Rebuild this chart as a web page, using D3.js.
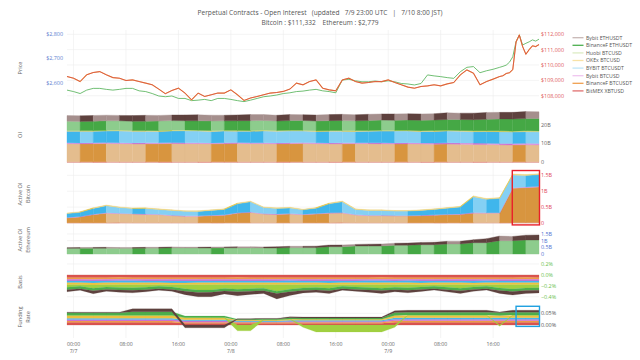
<!DOCTYPE html>
<html><head><meta charset="utf-8">
<script src="https://cdn.jsdelivr.net/npm/d3@7"></script>
<style>
body{margin:0;background:#fff}
svg{display:block;font-family:"Open Sans",sans-serif}
</style>
</head><body>
<svg id="c" width="640" height="360"></svg>
<script>
// ---------------- DATA ----------------
const titleLine1 = "Perpetual Contracts - Open Interest   (updated   7/9 23:00 UTC   |   7/10 8:00 JST)";
const titleLine2 = "Bitcoin : $111,332    Ethereum : $2,779";
const seriesNames = ["Bybit ETHUSDT","BinanceF ETHUSDT","Huobi BTCUSD","OKEx BTCUSD","BYBIT BTCUSDT","Bybit BTCUSD","BinanceF BTCUSDT","BitMEX XBTUSD"];
const seriesKeys  = ["bybitEth","binEth","huobi","okex","bybitBtcusdt","bybitBtcusd","binBtc","bitmex"];
const stackKeys = ["bitmex","binBtc","bybitBtcusd","bybitBtcusdt","okex","huobi","binEth","bybitEth"];

// price (hour offsets from 7/6 23:00 UTC)
const priceHours = d3.range(0, 66.5, 1).concat([66.5,67,67.5,68,68.5,69,69.5,70,70.5,71,71.5,72]);
const btcPrice = [109250,109140,108920,109360,109510,109570,109360,109180,109140,108990,109030,108920,108820,108710,108430,108130,108340,108490,108170,107730,108170,107950,108060,108170,108170,108380,108060,107690,107850,107950,108060,108170,108210,108280,108430,108820,108710,108920,109030,108490,108380,108320,109030,109140,108920,108820,108860,108920,108920,109030,108860,108710,108560,108490,108600,108640,108710,108640,108770,108860,109360,109680,109470,108710,108920,109080,109250,
  109300,109450,109500,109700,111500,111950,111200,110700,111000,111250,111200,111332];
const ethPrice = [2571,2565,2557,2571,2578,2578,2574,2571,2574,2578,2578,2568,2565,2557,2547,2544,2547,2537,2537,2528,2530,2533,2528,2537,2537,2533,2528,2524,2530,2537,2544,2547,2551,2557,2560,2565,2567,2571,2574,2568,2565,2560,2612,2615,2609,2605,2605,2608,2605,2609,2605,2598,2596,2592,2598,2633,2629,2626,2622,2619,2646,2664,2667,2642,2650,2656,2664,
  2668,2673,2685,2707,2769,2796,2755,2762,2768,2776,2771,2779];

// panels sampled every 2 hours (37 points)
// Open interest (B USD)
const oiBitmex = [0.3,0.3,0.3,0.31,0.3,0.3,0.3,0.29,0.3,0.3,0.3,0.31,0.3,0.3,0.3,0.3,0.29,0.3,0.3,0.3,0.3,0.31,0.3,0.3,0.3,0.3,0.3,0.29,0.3,0.3,0.3,0.3,0.31,0.3,0.3,0.3,0.3];
const oiBinBtc = [9.6,9.5,9.6,9.7,9.6,9.5,9.5,9.6,9.7,9.6,9.6,9.5,9.6,9.7,9.6,9.6,9.5,9.6,9.7,9.6,9.5,9.5,9.6,9.6,9.5,9.4,9.5,9.4,9.3,9.4,9.3,9.2,9.1,9.0,8.9,9.0,8.9];
const oiBybitBtcusd = [0.5,0.5,0.55,0.5,0.5,0.5,0.55,0.5,0.5,0.55,0.5,0.5,0.5,0.55,0.5,0.5,0.5,0.55,0.5,0.5,0.5,0.55,0.5,0.5,0.6,0.6,0.65,0.6,0.6,0.65,0.7,0.7,0.75,0.7,0.8,0.8,0.8];
const oiBybitBtcusdt = [6.1,6.2,6.0,6.1,6.3,6.2,6.1,6.0,6.2,6.3,6.2,6.1,6.2,6.0,6.1,6.3,6.2,6.2,6.1,6.0,6.2,6.1,6.0,6.1,6.2,6.3,6.2,6.1,6.2,6.3,6.2,6.1,6.2,6.3,6.1,6.2,6.2];
const oiOkex = [0.35,0.35,0.36,0.35,0.35,0.34,0.35,0.35,0.36,0.35,0.35,0.35,0.34,0.35,0.35,0.36,0.35,0.35,0.35,0.34,0.35,0.35,0.36,0.35,0.35,0.35,0.34,0.35,0.35,0.36,0.35,0.35,0.35,0.36,0.37,0.36,0.36];
const oiHuobi = [0.1,0.1,0.1,0.11,0.1,0.1,0.1,0.1,0.11,0.1,0.1,0.1,0.1,0.1,0.11,0.1,0.1,0.1,0.1,0.1,0.11,0.1,0.1,0.1,0.1,0.1,0.11,0.1,0.1,0.1,0.1,0.1,0.11,0.1,0.1,0.1,0.1];
const oiBinEth = [4.9,4.8,4.9,5.0,4.9,4.9,5.0,5.1,5.0,4.9,5.0,5.1,5.0,5.1,5.2,5.1,5.0,5.1,5.2,5.1,5.2,5.3,5.2,5.3,5.4,5.3,5.4,5.5,5.6,5.7,5.8,5.9,6.1,6.3,6.4,6.5,6.6];
const oiBybitEth = [3.0,3.0,3.1,3.0,2.9,3.0,3.1,3.0,3.0,3.1,3.2,3.1,3.0,3.1,3.2,3.1,3.1,3.2,3.1,3.2,3.2,3.3,3.2,3.3,3.3,3.4,3.3,3.4,3.4,3.5,3.4,3.5,3.6,3.5,3.6,3.7,3.6];

// Active OI Bitcoin (B USD)
const aBitmex = [0.01,0.01,0.01,0.01,0.012,0.01,0.01,0.01,0.01,0.01,0.01,0.01,0.011,0.01,0.01,0.01,0.01,0.01,0.01,0.01,0.01,0.012,0.01,0.01,0.01,0.01,0.01,0.01,0.01,0.011,0.01,0.01,0.01,0.01,0.012,0.012,0.012];
const aBinBtc = [0.15,0.18,0.25,0.3,0.28,0.27,0.26,0.25,0.22,0.2,0.2,0.22,0.23,0.3,0.32,0.27,0.26,0.27,0.25,0.27,0.3,0.3,0.24,0.22,0.22,0.21,0.21,0.22,0.23,0.25,0.26,0.3,0.3,0.3,1.08,1.1,1.12];
const aBybitBtcusd = [0.015,0.015,0.016,0.015,0.015,0.014,0.015,0.015,0.015,0.016,0.015,0.015,0.015,0.014,0.015,0.015,0.016,0.015,0.015,0.015,0.015,0.016,0.015,0.015,0.014,0.015,0.015,0.015,0.016,0.015,0.015,0.017,0.016,0.016,0.02,0.02,0.02];
const aBybitBtcusdt = [0.12,0.13,0.18,0.22,0.18,0.16,0.17,0.15,0.15,0.14,0.14,0.15,0.17,0.28,0.32,0.19,0.17,0.18,0.14,0.17,0.28,0.34,0.16,0.15,0.15,0.14,0.14,0.15,0.17,0.19,0.22,0.5,0.42,0.45,0.4,0.36,0.37];
const aOkex = [0.02,0.02,0.022,0.02,0.02,0.02,0.021,0.02,0.02,0.02,0.02,0.02,0.02,0.022,0.022,0.02,0.02,0.02,0.02,0.02,0.022,0.022,0.02,0.02,0.02,0.02,0.02,0.02,0.02,0.02,0.02,0.025,0.024,0.024,0.03,0.03,0.03];

// Active OI Ethereum (B USD)
const eBinEth = [0.43,0.43,0.44,0.44,0.43,0.43,0.44,0.44,0.46,0.45,0.45,0.45,0.46,0.46,0.46,0.45,0.45,0.48,0.48,0.48,0.55,0.55,0.6,0.6,0.6,0.66,0.66,0.7,0.7,0.75,0.75,0.85,0.85,1.0,1.0,1.05,1.05];
const eBybitEth = [0.04,0.05,0.05,0.06,0.05,0.05,0.06,0.06,0.07,0.06,0.06,0.07,0.07,0.08,0.08,0.08,0.09,0.1,0.1,0.11,0.12,0.13,0.12,0.14,0.15,0.15,0.16,0.17,0.18,0.2,0.2,0.22,0.3,0.35,0.32,0.36,0.38];

// Basis (%)
const bBitmex = [-0.05,-0.05,-0.052,-0.05,-0.049,-0.05,-0.051,-0.05,-0.05,-0.052,-0.05,-0.05,-0.05,-0.049,-0.05,-0.051,-0.05,-0.05,-0.05,-0.05,-0.052,-0.05,-0.05,-0.05,-0.049,-0.05,-0.05,-0.051,-0.05,-0.05,-0.05,-0.052,-0.05,-0.05,-0.05,-0.049,-0.05];
const bBinBtc = [-0.03,-0.03,-0.031,-0.03,-0.03,-0.029,-0.03,-0.03,-0.031,-0.03,-0.03,-0.03,-0.03,-0.031,-0.03,-0.03,-0.03,-0.029,-0.03,-0.03,-0.03,-0.031,-0.03,-0.03,-0.03,-0.03,-0.029,-0.03,-0.03,-0.03,-0.031,-0.03,-0.03,-0.03,-0.03,-0.031,-0.03];
const bBybitBtcusd = [-0.03,-0.031,-0.03,-0.03,-0.03,-0.03,-0.029,-0.03,-0.03,-0.03,-0.031,-0.03,-0.03,-0.03,-0.03,-0.029,-0.03,-0.03,-0.031,-0.03,-0.03,-0.03,-0.03,-0.029,-0.03,-0.03,-0.03,-0.031,-0.03,-0.03,-0.03,-0.03,-0.029,-0.03,-0.03,-0.03,-0.03];
const bBybitBtcusdt = [-0.035,-0.035,-0.036,-0.035,-0.034,-0.035,-0.035,-0.035,-0.036,-0.035,-0.035,-0.034,-0.035,-0.035,-0.035,-0.036,-0.035,-0.035,-0.035,-0.034,-0.035,-0.035,-0.036,-0.035,-0.035,-0.035,-0.034,-0.035,-0.035,-0.036,-0.035,-0.035,-0.035,-0.034,-0.035,-0.035,-0.035];
const bOkex = [-0.035,-0.034,-0.035,-0.035,-0.036,-0.035,-0.035,-0.034,-0.035,-0.035,-0.036,-0.035,-0.035,-0.035,-0.034,-0.035,-0.035,-0.036,-0.035,-0.035,-0.035,-0.034,-0.035,-0.035,-0.036,-0.035,-0.035,-0.035,-0.034,-0.035,-0.035,-0.036,-0.035,-0.035,-0.035,-0.034,-0.035];
const bHuobi = [-0.047,-0.03,-0.063,-0.041,-0.052,-0.058,-0.047,-0.03,-0.041,-0.074,-0.096,-0.096,-0.069,-0.085,-0.074,-0.063,-0.118,-0.085,-0.058,-0.052,-0.063,-0.03,-0.041,-0.052,-0.063,-0.047,-0.058,-0.041,-0.03,-0.047,-0.063,-0.041,-0.03,-0.063,-0.08,-0.063,-0.058];
const bBinEth = [-0.045,-0.045,-0.046,-0.045,-0.044,-0.045,-0.045,-0.046,-0.045,-0.045,-0.044,-0.045,-0.045,-0.046,-0.045,-0.045,-0.045,-0.044,-0.045,-0.045,-0.046,-0.045,-0.045,-0.045,-0.044,-0.045,-0.045,-0.046,-0.045,-0.045,-0.045,-0.044,-0.045,-0.045,-0.046,-0.045,-0.045];
const bBybitEth = [-0.038,-0.025,-0.052,-0.034,-0.043,-0.047,-0.038,-0.025,-0.034,-0.061,-0.079,-0.079,-0.056,-0.07,-0.061,-0.052,-0.097,-0.07,-0.047,-0.043,-0.052,-0.025,-0.034,-0.043,-0.052,-0.038,-0.047,-0.034,-0.025,-0.038,-0.052,-0.034,-0.025,-0.052,-0.065,-0.052,-0.047];

// Funding rate (%)
const fBitmex = [0.012,0.012,0.012,0.012,0.012,0.012,0.012,0.012,0.012,0.008,0.008,0.008,0.008,0.008,0.008,0.008,0.008,0.008,0.008,0.008,0.008,0.008,0.008,0.008,0.008,0.012,0.012,0.012,0.012,0.012,0.012,0.012,0.012,0.012,0.012,0.012,0.012];
const fBinBtc = [0.005,0.005,0.005,0.005,0.005,0.005,0.005,0.005,0.005,0.004,0.004,0.004,0.004,0.004,0.004,0.004,0.004,0.004,0.004,0.004,0.004,0.004,0.004,0.004,0.004,0.006,0.006,0.006,0.006,0.006,0.006,0.006,0.006,0.006,0.006,0.006,0.006];
const fBybitBtcusd = [0.007,0.007,0.007,0.007,0.007,0.007,0.007,0.007,0.007,0.006,0.006,0.006,0.006,0.002,0.002,0.002,0.002,0.004,0.004,0.004,0.004,0.004,0.004,0.004,0.004,0.007,0.007,0.007,0.007,0.007,0.007,0.007,0.007,0.007,0.007,0.007,0.007];
const fBybitBtcusdt = [0.005,0.005,0.005,0.005,0.005,0.005,0.005,0.005,0.005,0.004,0.004,0.004,0.004,0.004,0.004,0.004,0.004,0.004,0.004,0.004,0.004,0.004,0.004,0.004,0.004,0.006,0.006,0.006,0.006,0.006,0.006,0.006,0.006,0.006,0.006,0.006,0.006];
const fOkex = [0.01,0.01,0.01,0.01,0.01,0.01,0.01,0.01,0.01,0.008,0.008,0.008,0.008,0.003,0.003,0.003,0.003,0.005,0.005,0.005,0.005,0.005,0.005,0.005,0.005,0.01,0.01,0.01,0.01,0.01,0.01,0.01,0.01,0.01,0.01,0.01,0.01];
const fHuobi = [0.003,0.003,0.003,0.003,0.003,0.003,0.003,0.003,0.003,0.002,0.002,0.002,0.002,-0.025,-0.025,0.001,0.001,0.001,-0.01,-0.03,-0.03,-0.03,-0.03,-0.03,-0.03,-0.01,0.002,0.002,0.002,0.002,0.002,0.002,0.002,-0.005,0.002,0.002,0.002];
const fBinEth = [0.01,0.01,0.01,0.01,0.01,0.015,0.015,0.015,0.015,0.006,0.006,0.006,0.006,0.004,0.004,0.004,0.004,0.005,0.005,0.005,0.005,0.005,0.005,0.005,0.005,0.012,0.012,0.012,0.012,0.012,0.012,0.012,0.012,0.012,0.012,0.012,0.012];
const fBybitEth = [0.003,0.003,0.003,0.003,0.003,0.012,0.012,0.012,0.012,-0.012,-0.012,-0.012,-0.012,0.002,0.002,0.002,0.002,0.004,0.004,0.004,0.004,0.004,0.004,0.004,0.004,0.008,0.008,0.008,0.008,0.008,0.008,0.008,0.008,0.003,0.008,0.008,0.008];

// tick values
const btcTicks = [108000,109000,110000,111000,112000];
const ethTicks = [2600,2700,2800];
const oiTicks = [0,10,20];
const activeTicks = [0,0.5,1,1.5];
const basisTicks = [-0.4,-0.2,0,0.2];
const fundingTicks = [0,0.05];

// ---------------- STYLE ----------------
const baseCol = {bitmex:'#d9534f', binBtc:'#d8953f', bybitBtcusd:'#cf6fcf', bybitBtcusdt:'#3fb6ec', okex:'#ecc43e', huobi:'#a3cf45', binEth:'#45a845', bybitEth:'#5e413e'};
const lightCol = {bitmex:'#e07a76', binBtc:'#e4bd8e', bybitBtcusd:'#dc8fdc', bybitBtcusdt:'#84d0f4', okex:'#f0d47a', huobi:'#c3e08a', binEth:'#8dcc8d', bybitEth:'#a58f8d'};
const flatCol = {bitmex:'#d9534f', binBtc:'#f0a040', bybitBtcusd:'#d070d0', bybitBtcusdt:'#40b8f0', okex:'#f0c040', huobi:'#a0d040', binEth:'#4cae4c', bybitEth:'#5e413e'};
const legendCol = {bybitEth:'#c8b8b6', binEth:'#4caf50', huobi:'#dcecc4', okex:'#f8e2a6', bybitBtcusdt:'#bfe6f8', bybitBtcusd:'#f0c6f0', binBtc:'#f0a050', bitmex:'#e07070'};

const svg = d3.select('#c');
const hour = 3600e3;
const t0 = Date.UTC(2025,6,6,23,0);
const x = d3.scaleUtc().domain([new Date(t0), new Date(t0 + 72*hour)]).range([67, 539]);
const times2h = d3.range(37).map(j => new Date(t0 + j*2*hour));
const X0 = 67, X1 = 539;

// title
svg.append('text').attr('x',320).attr('y',15).attr('text-anchor','middle').attr('fill','#555')
  .style('font-size','6.6px').style('white-space','pre').text(titleLine1);
svg.append('text').attr('x',320).attr('y',25).attr('text-anchor','middle').attr('fill','#555')
  .style('font-size','6.6px').style('white-space','pre').text(titleLine2);

// scales per panel
const yBtc = d3.scaleLinear().domain([108000,112000]).range([95.7,34.3]);
const yEth = d3.scaleLinear().domain([2600,2800]).range([83,34]);
const yOI = d3.scaleLinear().domain([0,20]).range([162.3,124.7]);
const yA = d3.scaleLinear().domain([0,1.5]).range([223,175.3]);
const yE = d3.scaleLinear().domain([0,1.5]).range([254,234]);
const yB = d3.scaleLinear().domain([-0.4,0.2]).range([296.7,264]);
const yF = d3.scaleLinear().domain([0,0.05]).range([325,313.3]);

const grid = svg.append('g');
const xTicks = x.ticks(d3.utcHour.every(8));
grid.selectAll('line.v').data(xTicks).join('line')
  .attr('x1',d=>x(d)).attr('x2',d=>x(d)).attr('y1',30).attr('y2',338)
  .attr('stroke','#ececec').attr('stroke-width',0.6);

function hgrid(scale, ticks){
  grid.selectAll(null).data(ticks).join('line')
    .attr('x1',X0).attr('x2',X1).attr('y1',d=>scale(d)).attr('y2',d=>scale(d))
    .attr('stroke','#ececec').attr('stroke-width',0.6);
}
hgrid(yBtc, btcTicks); hgrid(yOI, oiTicks); hgrid(yA, activeTicks); hgrid(yE, activeTicks); hgrid(yB, basisTicks); hgrid(yF, fundingTicks);

function rightLabels(scale, ticks, fmt, color){
  svg.append('g').selectAll('text').data(ticks).join('text')
    .attr('x',541).attr('y',d=>scale(d)).attr('dy','0.35em').attr('fill',color)
    .style('font-size','5.4px').text(fmt);
}
rightLabels(yBtc, btcTicks, d=>'$'+d3.format(',')(d), '#e05a5a');
rightLabels(yOI, oiTicks, d=>d===0?'0':d+'B', '#666');
rightLabels(yA, activeTicks, d=>d===0?'0':d+'B', '#e0405a');
rightLabels(yE, activeTicks, d=>d===0?'0':d+'B', '#4d6fd0');
rightLabels(yB, basisTicks, d=>d3.format('.1f')(d)+'%', '#6abf4b');
rightLabels(yF, fundingTicks, d=>d3.format('.2f')(d)+'%', '#555');
svg.append('g').selectAll('text').data(ethTicks).join('text')
  .attr('x',63).attr('y',d=>yEth(d)).attr('dy','0.35em').attr('text-anchor','end').attr('fill','#5b80d0')
  .style('font-size','5.4px').text(d=>'$'+d3.format(',')(d));

// x labels
const xl = svg.append('g');
xl.selectAll('text.t').data(xTicks).join('text').attr('x',d=>x(d)).attr('y',345.5).attr('text-anchor','middle')
  .attr('fill','#666').style('font-size','5.2px').text(d3.utcFormat('%H:%M'));
xl.selectAll('text.d').data(xTicks.filter(d=>d.getUTCHours()===0)).join('text').attr('x',d=>x(d)).attr('y',352.5).attr('text-anchor','middle')
  .attr('fill','#666').style('font-size','5.2px').text(d3.utcFormat('%-m/%-d'));

// y titles
function ytitle(lines, cy){
  const t = svg.append('text').attr('transform',`translate(20.5,${cy}) rotate(-90)`).attr('text-anchor','middle')
    .attr('fill','#666').style('font-size','5.6px');
  lines.forEach((l,i)=>t.append('tspan').attr('x',0).attr('dy', i===0 ? '0.35em' : '1.3em').text(l));
}
ytitle(['Price'],68);
ytitle(['OI'],135);
ytitle(['Active OI','Bitcoin'],194);
ytitle(['Active OI','Ethereum'],240);
ytitle(['Basis'],282);
ytitle(['Funding','Rate'],317);

// ---------------- STACKED PANELS ----------------
function stackPanel(arrays, yS, shaded, colors){
  const rows = times2h.map((t,j)=>{const r={t}; stackKeys.forEach(k=>r[k]=arrays[k] ? arrays[k][j] : 0); return r;});
  const st = d3.stack().keys(stackKeys).offset(d3.stackOffsetDiverging)(rows);
  const area = d3.area().x(d=>x(d.data.t)).y0(d=>yS(d[0])).y1(d=>yS(d[1]));
  const g = svg.append('g');
  st.forEach(layer=>{
    const k = layer.key;
    if (!arrays[k]) return;
    if (!shaded){
      g.append('path').attr('d',area(layer)).attr('fill',colors[k]).attr('stroke',colors[k]).attr('stroke-width',0.2);
      return;
    }
    for (let j=0;j<layer.length-1;j++){
      const up = arrays[k][j+1] > arrays[k][j];
      const c = up ? baseCol[k] : lightCol[k];
      g.append('path').attr('d',area([layer[j],layer[j+1]])).attr('fill',c).attr('stroke',c).attr('stroke-width',0.35);
    }
  });
}
stackPanel({bitmex:oiBitmex, binBtc:oiBinBtc, bybitBtcusd:oiBybitBtcusd, bybitBtcusdt:oiBybitBtcusdt, okex:oiOkex, huobi:oiHuobi, binEth:oiBinEth, bybitEth:oiBybitEth}, yOI, true);
stackPanel({bitmex:aBitmex, binBtc:aBinBtc, bybitBtcusd:aBybitBtcusd, bybitBtcusdt:aBybitBtcusdt, okex:aOkex}, yA, true);
stackPanel({binEth:eBinEth, bybitEth:eBybitEth}, yE, true);
stackPanel({bitmex:bBitmex, binBtc:bBinBtc, bybitBtcusd:bBybitBtcusd, bybitBtcusdt:bBybitBtcusdt, okex:bOkex, huobi:bHuobi, binEth:bBinEth, bybitEth:bBybitEth}, yB, false, flatCol);
stackPanel({bitmex:fBitmex, binBtc:fBinBtc, bybitBtcusd:fBybitBtcusd, bybitBtcusdt:fBybitBtcusdt, okex:fOkex, huobi:fHuobi, binEth:fBinEth, bybitEth:fBybitEth}, yF, false, flatCol);

// ---------------- PRICE ----------------
const pts = priceHours.map((h,i)=>({t:new Date(t0+h*hour), btc:btcPrice[i], eth:ethPrice[i]}));
const pg = svg.append('g');
pg.append('path').attr('d', d3.line().x(d=>x(d.t)).y(d=>yEth(d.eth))(pts)).attr('fill','none').attr('stroke','#4caf50').attr('stroke-width',0.8);
pg.append('path').attr('d', d3.line().x(d=>x(d.t)).y(d=>yBtc(d.btc))(pts)).attr('fill','none').attr('stroke','#f0a050').attr('stroke-width',1.1);
pg.append('path').attr('d', d3.line().x(d=>x(d.t)).y(d=>yBtc(d.btc))(pts)).attr('fill','none').attr('stroke','#d23f3a').attr('stroke-width',0.7);

// ---------------- LEGEND ----------------
const lg = svg.append('g');
seriesNames.forEach((n,i)=>{
  const yy = 37.7 + i*7.6;
  lg.append('line').attr('x1',572.5).attr('x2',583.5).attr('y1',yy).attr('y2',yy).attr('stroke',legendCol[seriesKeys[i]]).attr('stroke-width',1.3);
  lg.append('text').attr('x',586).attr('y',yy).attr('dy','0.35em').attr('fill','#555').style('font-size','5.2px').text(n);
});

// ---------------- HIGHLIGHT BOXES ----------------
svg.append('rect').attr('x',x(new Date(t0+68*hour))-0.5).attr('y',yA(1.65)).attr('width',x(new Date(t0+72*hour))-x(new Date(t0+68*hour))+1)
  .attr('height',yA(-0.06)-yA(1.65)).attr('fill','none').attr('stroke','#e8202a').attr('stroke-width',1.4);
svg.append('rect').attr('x',x(new Date(t0+68.5*hour))).attr('y',yF(0.08)).attr('width',x(new Date(t0+72*hour))-x(new Date(t0+68.5*hour))+0.5)
  .attr('height',yF(-0.006)-yF(0.08)).attr('fill','none').attr('stroke','#1ea0e0').attr('stroke-width',1.4);
</script>
</body></html>
